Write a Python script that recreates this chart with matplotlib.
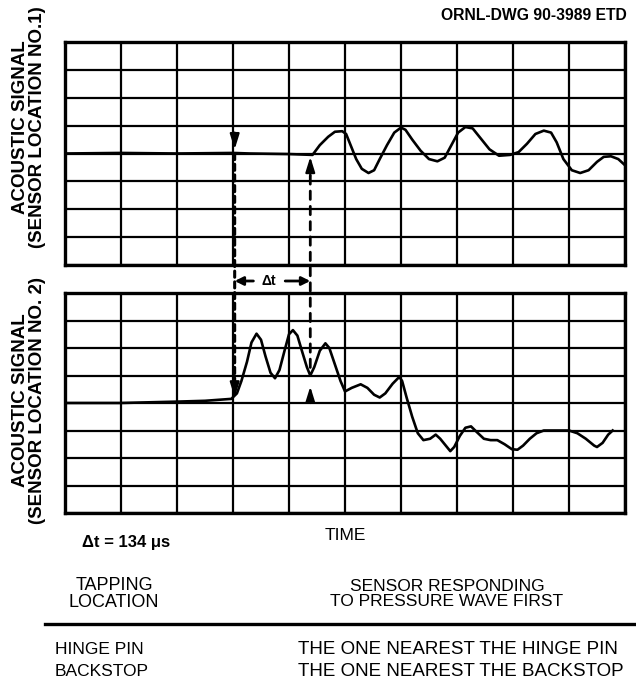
import matplotlib
matplotlib.use("Agg")
import matplotlib.pyplot as plt
from matplotlib.patches import ConnectionPatch, FancyArrowPatch

# --------------------------
# Data (time in grid divisions, signal in grid divisions)
# --------------------------
SENSOR1_TIME = [0.0, 1.0, 2.0, 3.0, 3.3, 4.0, 4.42,
                4.55, 4.7, 4.82, 4.95, 5.02, 5.1, 5.2, 5.3, 5.42, 5.52, 5.62,
                5.75, 5.88, 6.0, 6.08, 6.2, 6.35, 6.5, 6.65, 6.78, 6.9, 7.02,
                7.15, 7.28, 7.42, 7.58, 7.75, 7.95, 8.1, 8.25, 8.4, 8.55, 8.68,
                8.78, 8.9, 9.05, 9.2, 9.35, 9.5, 9.62, 9.75, 9.88, 10.0]
SENSOR1_SIGNAL = [0.0, 0.02, 0.0, 0.02, 0.0, -0.02, -0.05,
                  0.3, 0.6, 0.78, 0.8, 0.7, 0.3, -0.2, -0.55, -0.7, -0.6, -0.2,
                  0.3, 0.75, 0.93, 0.85, 0.5, 0.1, -0.2, -0.28, -0.15, 0.3, 0.75,
                  0.95, 0.9, 0.55, 0.15, -0.08, -0.05, 0.05, 0.35, 0.7, 0.82, 0.75,
                  0.4, -0.2, -0.6, -0.7, -0.6, -0.3, -0.12, -0.1, -0.2, -0.42]

SENSOR2_TIME = [0.0, 1.0, 2.0, 2.5, 2.97, 3.07, 3.15, 3.25, 3.33, 3.42, 3.5,
                3.58, 3.67, 3.75, 3.83, 3.92, 4.0, 4.07, 4.15, 4.23, 4.32, 4.38,
                4.45, 4.55, 4.65, 4.72, 4.82, 4.92, 5.0, 5.12, 5.28, 5.4, 5.52,
                5.62, 5.72, 5.85, 5.97, 6.02, 6.1, 6.2, 6.3, 6.4, 6.52, 6.62,
                6.7, 6.8, 6.88, 6.95, 7.05, 7.15, 7.25, 7.35, 7.48, 7.6, 7.72,
                7.85, 7.98, 8.08, 8.18, 8.3, 8.42, 8.55, 9.0, 9.15, 9.3, 9.45,
                9.5, 9.6, 9.7, 9.78]
SENSOR2_SIGNAL = [0.0, 0.0, 0.05, 0.08, 0.15, 0.35, 0.8, 1.5, 2.2, 2.52, 2.3,
                  1.7, 1.1, 0.9, 1.2, 1.9, 2.5, 2.65, 2.45, 1.9, 1.3, 1.0,
                  1.3, 1.9, 2.17, 2.0, 1.4, 0.8, 0.42, 0.55, 0.68, 0.55, 0.3,
                  0.2, 0.35, 0.7, 0.95, 0.8, 0.2, -0.5, -1.1, -1.35, -1.3, -1.15,
                  -1.3, -1.55, -1.75, -1.6, -1.2, -0.9, -0.85, -1.05, -1.3, -1.35, -1.35,
                  -1.5, -1.68, -1.7, -1.55, -1.3, -1.1, -1.0, -1.0, -1.1, -1.3, -1.55,
                  -1.6, -1.45, -1.15, -1.0]

# arrival times marked on both traces
ARRIVAL_1 = 3.03
ARRIVAL_2 = 4.38

HEADER = "ORNL-DWG 90-3989 ETD"
YLABELS = ["ACOUSTIC SIGNAL\n(SENSOR LOCATION NO.1)",
           "ACOUSTIC SIGNAL\n(SENSOR LOCATION NO. 2)"]
DT_NOTE = "\u0394t = 134 \u03bcs"
XLABEL = "TIME"
COLUMN_HEADS = ["TAPPING\nLOCATION", "SENSOR RESPONDING\nTO PRESSURE WAVE FIRST"]
TABLE_ROWS = [("HINGE PIN", "THE ONE NEAREST THE HINGE PIN"),
              ("BACKSTOP", "THE ONE NEAREST THE BACKSTOP")]

# --------------------------
# Style
# --------------------------
W, H = 636, 680
FONT = ["Liberation Sans", "DejaVu Sans"]
plt.rcParams["font.family"] = FONT
GRID_LW = 1.6
SPINE_LW = 2.4
TRACE_LW = 1.9


def fx(px):
    return px / W


def fy(py):
    return 1 - py / H


def scope_panel(fig, top, bottom):
    ax = fig.add_axes([fx(65), fy(bottom), fx(625) - fx(65), fy(top) - fy(bottom)])
    ax.set_xlim(0, 10)
    ax.set_ylim(-4, 4)
    ax.set_xticks(range(0, 11))
    ax.set_yticks(range(-4, 5))
    ax.tick_params(length=0, labelbottom=False, labelleft=False)
    ax.grid(True, color="black", lw=GRID_LW)
    for s in ax.spines.values():
        s.set_linewidth(SPINE_LW)
    return ax


def arrow_head(ax, x, y_from, y_to):
    ax.annotate("", xy=(x, y_to), xytext=(x, y_from),
                arrowprops=dict(arrowstyle="-|>,head_length=0.9,head_width=0.28",
                                color="black", lw=1.6, shrinkA=0, shrinkB=0))


def main():
    fig = plt.figure(figsize=(W / 100, H / 100), dpi=100)

    ax1 = scope_panel(fig, 42, 265)
    ax2 = scope_panel(fig, 293, 513)

    ax1.plot(SENSOR1_TIME, SENSOR1_SIGNAL, color="black", lw=TRACE_LW, zorder=3)
    ax2.plot(SENSOR2_TIME, SENSOR2_SIGNAL, color="black", lw=TRACE_LW, zorder=3)

    # arrival markers
    arrow_head(ax1, ARRIVAL_1, 0.75, 0.15)
    arrow_head(ax1, ARRIVAL_2, -0.8, -0.12)
    arrow_head(ax2, ARRIVAL_1, 0.8, 0.2)
    arrow_head(ax2, ARRIVAL_2, 0.0, 0.6)

    con1 = ConnectionPatch(xyA=(ARRIVAL_1, 0.0), coordsA=ax1.transData,
                           xyB=(ARRIVAL_1, 0.75), coordsB=ax2.transData,
                           color="black", lw=2.2, linestyle=(0, (2, 1.5)), zorder=4)
    con2 = ConnectionPatch(xyA=(ARRIVAL_2, -0.8), coordsA=ax1.transData,
                           xyB=(ARRIVAL_2, 1.05), coordsB=ax2.transData,
                           color="black", lw=2.0, linestyle=(0, (3, 2.5)), zorder=4)
    fig.add_artist(con1)
    fig.add_artist(con2)

    # delta-t bracket between the panels
    y_gap = fy(281)
    x1 = ax1.transData.transform((ARRIVAL_1, 0))[0] / W
    x2 = ax1.transData.transform((ARRIVAL_2, 0))[0] / W
    xm = (x1 + x2) / 2
    fig.text(xm - 0.006, y_gap, "\u0394t", ha="center", va="center",
             fontsize=10, fontweight="bold")
    for start, end in [(xm - 0.03, x1), (xm + 0.02, x2)]:
        fig.add_artist(FancyArrowPatch(
            (start, y_gap), (end, y_gap), transform=fig.transFigure,
            arrowstyle="-|>,head_length=5,head_width=2.5", color="black",
            lw=2.0, shrinkA=0, shrinkB=0))

    # labels
    fig.text(fx(627), fy(15), HEADER, ha="right", va="center", fontsize=11.3,
             fontweight="bold")
    fig.text(fx(29), fy(127), YLABELS[0], rotation=90, ha="center", va="center",
             multialignment="center", fontsize=13.5, fontweight="bold", linespacing=0.95)
    fig.text(fx(29), fy(400), YLABELS[1], rotation=90, ha="center", va="center",
             multialignment="center", fontsize=13.5, fontweight="bold", linespacing=0.95)
    fig.text(fx(82), fy(543), DT_NOTE, ha="left", va="center", fontsize=12,
             fontweight="bold")
    fig.text(fx(345), fy(535), XLABEL, ha="center", va="center", fontsize=12.5)

    fig.text(fx(114), fy(594), COLUMN_HEADS[0], ha="center", va="center",
             multialignment="center", fontsize=13, linespacing=1.05)
    fig.text(fx(447), fy(594), COLUMN_HEADS[1], ha="center", va="center",
             multialignment="center", fontsize=12.5, linespacing=1.05)
    fig.add_artist(plt.Line2D([fx(45), fx(636)], [fy(624), fy(624)],
                              color="black", lw=2.4))
    for i, (place, sensor) in enumerate(TABLE_ROWS):
        yy = fy(650 + 22 * i)
        fig.text(fx(55), yy, place, ha="left", va="center", fontsize=12.5)
        fig.text(fx(298), yy, sensor, ha="left", va="center", fontsize=13.5)

    fig.savefig("out.png", dpi=100)
    plt.close(fig)


if __name__ == "__main__":
    main()
